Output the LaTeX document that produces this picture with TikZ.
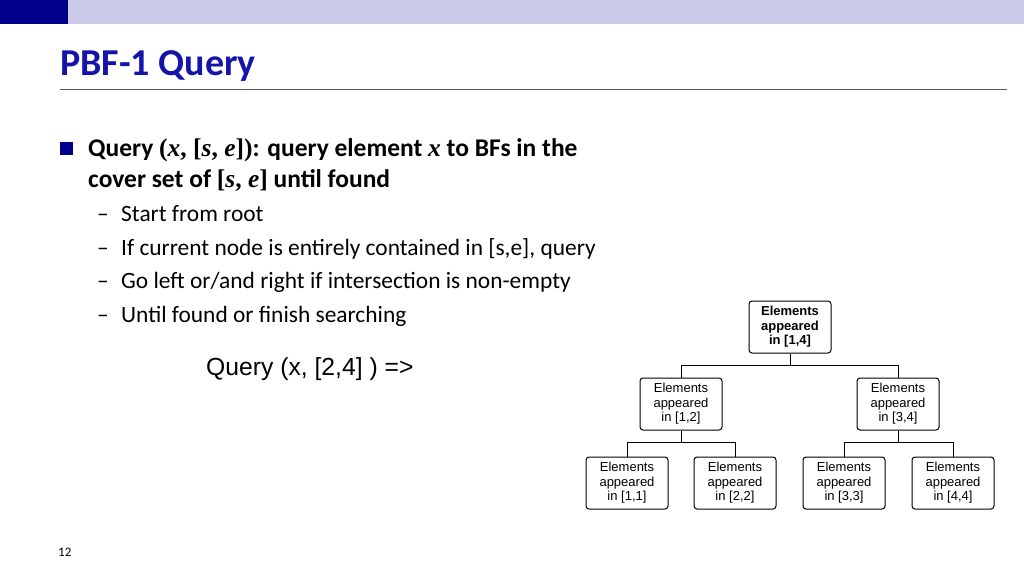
\documentclass[tikz,border=0pt]{standalone}
\usepackage{fontspec}
\setmainfont{Carlito}
\newfontfamily\arialfont{Liberation Sans}
\newfontfamily\mathfont{Liberation Serif}
\definecolor{titleblue}{RGB}{20,20,170}
\definecolor{barblue}{RGB}{0,0,140}
\definecolor{barlight}{RGB}{204,204,234}
\newcommand{\mvar}[1]{{\mathfont\bfseries\itshape #1}}
\newcommand{\mrm}[1]{{\mathfont #1}}
\tikzset{
  binbox/.style={draw, rounded corners=3pt, line width=1pt, minimum width=82pt, minimum height=52pt,
    align=center, font=\arialfont\fontsize{13}{14.5}\selectfont, inner sep=1pt},
  subitem/.style={anchor=base west, font=\fontsize{23.4}{26}\selectfont},
}
\begin{document}
\begin{tikzpicture}[x=1pt,y=-1pt]
  \useasboundingbox (0,0) rectangle (1024,576);
  % header bars
  \fill[barlight] (0,0) rectangle (1024,24);
  \fill[barblue] (0,0) rectangle (68,24);
  \node[anchor=base west, inner sep=0, text=titleblue, font=\bfseries\fontsize{38}{40}\selectfont] (title) at (60,75) {PBF-1 Query};
  \draw[gray!70!black, line width=0.6pt] (60,89) -- (1007,89);

  % bullets
  \fill[barblue] (60,142) rectangle (73,155);
  \node[anchor=base west, inner sep=0, font=\bfseries\fontsize{25.5}{28}\selectfont] (q1) at (88,156)
    {Query \mrm{(}\mvar{x}\mrm{, [}\mvar{s}\mrm{, }\mvar{e}\mrm{])}: query element \mvar{x} to BFs in the};
  \node[anchor=base west, inner sep=0, font=\bfseries\fontsize{25.5}{28}\selectfont] (q2) at (88,187)
    {cover set of \mrm{[}\mvar{s}\mrm{, }\mvar{e}\mrm{]} until found};
  \foreach \y/\t in {221/{Start from root},
                     255/{If current node is entirely contained in [s,e], query},
                     288/{Go left or/and right if intersection is non-empty},
                     322/{Until found or finish searching}} {
    \node[subitem, inner sep=0] at (97,\y) {--};
    \node[subitem, inner sep=0] at (121,\y) {\t};
  }
  \node[anchor=base west, inner sep=0, font=\arialfont\fontsize{24.7}{27}\selectfont] (ex) at (206,375) {Query (x, [2,4] ) =>};
  \node[anchor=base west, inner sep=0, font=\fontsize{13}{14}\selectfont] (pg) at (58,556) {12};

  % tree
  \node[binbox, font=\arialfont\bfseries\fontsize{13}{14.5}\selectfont] (r14) at (790,327) {Elements\\appeared\\in [1,4]};
  \node[binbox] (r12) at (681,404) {Elements\\appeared\\in [1,2]};
  \node[binbox] (r34) at (898,404) {Elements\\appeared\\in [3,4]};
  \node[binbox] (r11) at (627,483) {Elements\\appeared\\in [1,1]};
  \node[binbox] (r22) at (735,483) {Elements\\appeared\\in [2,2]};
  \node[binbox] (r33) at (844,483) {Elements\\appeared\\in [3,3]};
  \node[binbox] (r44) at (953,483) {Elements\\appeared\\in [4,4]};
  \foreach \p/\a/\b in {r14/r12/r34, r12/r11/r22, r34/r33/r44} {
    \draw[line width=1pt] (\p.south) -- ++(0,12) -| (\a.north);
    \draw[line width=1pt] (\p.south) -- ++(0,12) -| (\b.north);
  }
\end{tikzpicture}
\end{document}
